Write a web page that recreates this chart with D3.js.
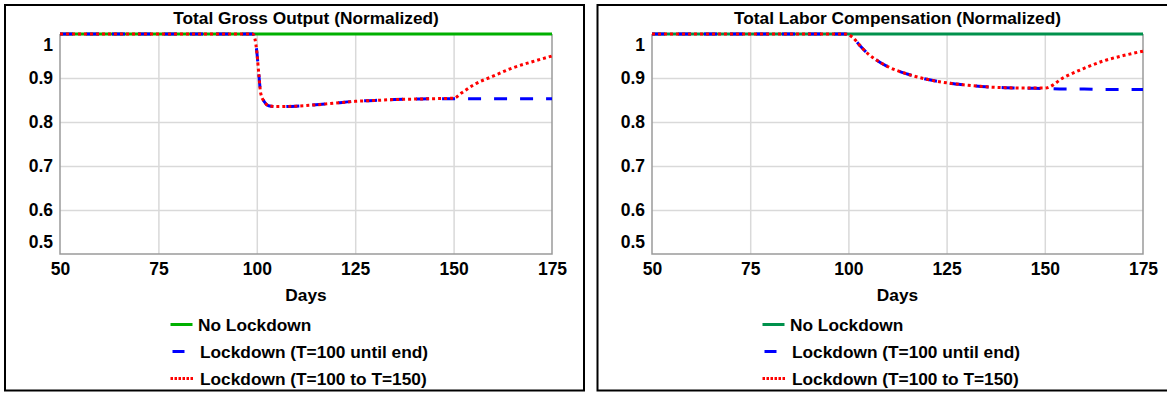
<!DOCTYPE html>
<html>
<head>
<meta charset="utf-8" />
<script src="https://d3js.org/d3.v7.min.js"></script>
<style>
  body { margin: 0; background: #fff; }
  text { font-family: "Liberation Sans", Arial, sans-serif; font-weight: bold; fill: #000; }
  .grid line { stroke: #d9d9d9; stroke-width: 1.5px; }
  .grid .domain { display: none; }
  .frame { fill: none; stroke: #000; stroke-width: 2px; }
  .plotedge { stroke: #9a9a9a; stroke-width: 1.5px; fill: none; }
</style>
</head>
<body>
<svg id="chart" width="1167" height="393"></svg>
<script>
var svg = d3.select("#chart");

// axis ticks
var dayTicks = [50, 75, 100, 125, 150, 175];
var valueTicks = [0.5, 0.6, 0.7, 0.8, 0.9, 1];

// series labels
var seriesNames = ["No Lockdown", "Lockdown (T=100 until end)", "Lockdown (T=100 to T=150)"];

// no lockdown stays at 1 in both panels
var noLockDays = [50, 175];
var noLockValues = [1, 1];

// Total Gross Output
var grossDays = [50, 99, 99.5, 100, 100.5, 101, 102, 103, 105, 110, 115, 120, 125, 130, 135, 140, 145, 150, 152, 155, 160, 165, 170, 175];
var grossUntilEnd = [1, 1, 0.99, 0.96, 0.91, 0.865, 0.845, 0.837, 0.835, 0.836, 0.839, 0.843, 0.847, 0.849, 0.851, 0.852, 0.853, 0.853, 0.853, 0.853, 0.853, 0.853, 0.853, 0.853];
var grossTo150 = [1, 1, 0.99, 0.96, 0.91, 0.865, 0.845, 0.837, 0.835, 0.836, 0.839, 0.843, 0.847, 0.849, 0.851, 0.852, 0.853, 0.854, 0.866, 0.884, 0.904, 0.923, 0.937, 0.95];

// Total Labor Compensation
var laborDays = [50, 99, 101, 103, 105, 108, 110, 115, 120, 125, 130, 135, 140, 145, 150, 155, 160, 165, 170, 175];
var laborUntilEnd = [1, 1, 0.993, 0.973, 0.955, 0.936, 0.926, 0.909, 0.897, 0.889, 0.884, 0.88, 0.878, 0.877, 0.876, 0.875, 0.875, 0.874, 0.874, 0.874];
var laborTo150 = [1, 1, 0.993, 0.973, 0.955, 0.936, 0.926, 0.909, 0.897, 0.889, 0.884, 0.88, 0.878, 0.877, 0.877, 0.902, 0.922, 0.939, 0.951, 0.961];

var panels = [
  { title: "Total Gross Output (Normalized)", frameX: 5, frameW: 579, left: 60, right: 552,
    green: "#00b000", days: grossDays, untilEnd: grossUntilEnd, to150: grossTo150 },
  { title: "Total Labor Compensation (Normalized)", frameX: 597.5, frameW: 575, left: 652, right: 1143,
    green: "#00914c", days: laborDays, untilEnd: laborUntilEnd, to150: laborTo150 }
];

var plotTop = 34, plotBottom = 254;

function zip(days, vals) {
  return days.map(function(d, i) { return [d, vals[i]]; });
}

panels.forEach(function(p) {
  var g = svg.append("g");

  g.append("rect").attr("class", "frame")
    .attr("x", p.frameX).attr("y", 5)
    .attr("width", p.frameW).attr("height", 385.5);

  var x = d3.scaleLinear().domain([50, 175]).range([p.left, p.right]);
  var y = d3.scaleLinear().domain([0.5, 1]).range([plotBottom, plotTop]);

  // gridlines
  g.append("g").attr("class", "grid")
    .attr("transform", "translate(0," + plotBottom + ")")
    .call(d3.axisBottom(x).tickValues(dayTicks.slice(1, -1)).tickSize(-(plotBottom - plotTop)).tickFormat(""));
  g.append("g").attr("class", "grid")
    .attr("transform", "translate(" + p.left + ",0)")
    .call(d3.axisLeft(y).tickValues(valueTicks.slice(1, -1)).tickSize(-(p.right - p.left)).tickFormat(""));

  // plot edges
  g.append("path").attr("class", "plotedge")
    .attr("d", "M" + p.left + "," + plotTop + "V" + plotBottom + "H" + p.right + "V" + plotTop);

  // x labels
  var xa = g.append("g")
    .attr("transform", "translate(0," + plotBottom + ")")
    .call(d3.axisBottom(x).tickValues(dayTicks).tickSize(0).tickPadding(9).tickFormat(d3.format("d")));
  xa.select(".domain").remove();
  xa.selectAll("text").attr("font-size", 17.5).attr("font-family", null);

  // y labels (end labels pushed inside like the original)
  var ya = g.append("g")
    .attr("transform", "translate(" + p.left + ",0)")
    .call(d3.axisLeft(y).tickValues(valueTicks).tickSize(0).tickPadding(7)
      .tickFormat(function(d) { return d === 1 ? "1" : d3.format(".1f")(d); }));
  ya.select(".domain").remove();
  ya.selectAll("text").attr("font-size", 17.5).attr("font-family", null)
    .attr("dy", function(d) { return d === 1 ? "0.95em" : d === 0.5 ? "-0.37em" : "0.32em"; });

  // title
  g.append("text")
    .attr("x", (p.left + p.right) / 2).attr("y", 24)
    .attr("text-anchor", "middle").attr("font-size", 17.3)
    .text(p.title);

  // x title
  g.append("text")
    .attr("x", (p.left + p.right) / 2).attr("y", 301)
    .attr("text-anchor", "middle").attr("font-size", 17.3)
    .text("Days");

  var line = d3.line()
    .x(function(d) { return x(d[0]); })
    .y(function(d) { return y(d[1]); })
    .curve(d3.curveMonotoneX);

  g.append("path").datum(zip(noLockDays, noLockValues))
    .attr("d", line).attr("fill", "none")
    .attr("stroke", p.green).attr("stroke-width", 3);
  g.append("path").datum(zip(p.days, p.untilEnd))
    .attr("d", line).attr("fill", "none")
    .attr("stroke", "#0000ff").attr("stroke-width", 3)
    .attr("stroke-dasharray", "13,13");
  g.append("path").datum(zip(p.days, p.to150))
    .attr("d", line).attr("fill", "none")
    .attr("stroke", "#ff0000").attr("stroke-width", 3)
    .attr("stroke-dasharray", "3,3");

  // legend
  var lx = p.left + 110.5;
  var rows = [
    { y: 324.5, color: p.green, x1: lx, x2: lx + 22, dash: null, tx: lx + 27.5 },
    { y: 351.5, color: "#0000ff", x1: lx + 2, x2: lx + 14, dash: null, tx: lx + 29.5 },
    { y: 378.5, color: "#ff0000", x1: lx, x2: lx + 23, dash: "2.5,1.5", tx: lx + 29.5 }
  ];
  rows.forEach(function(r, i) {
    g.append("line")
      .attr("x1", r.x1).attr("x2", r.x2).attr("y1", r.y).attr("y2", r.y)
      .attr("stroke", r.color).attr("stroke-width", 3)
      .attr("stroke-dasharray", r.dash);
    g.append("text")
      .attr("x", r.tx).attr("y", r.y + 6)
      .attr("font-size", 17.3)
      .text(seriesNames[i]);
  });
});
</script>
</body>
</html>
